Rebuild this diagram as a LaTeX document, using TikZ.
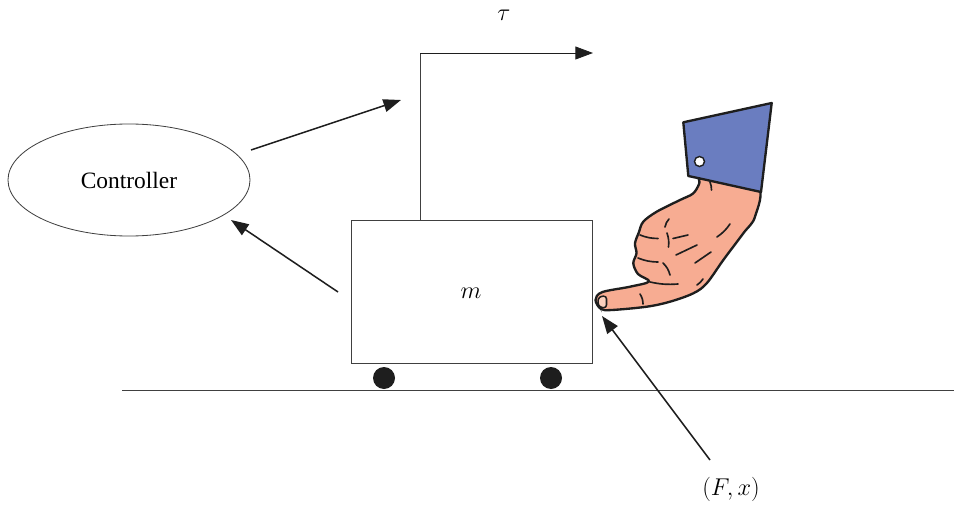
\documentclass[tikz,border=0pt]{standalone}
\usepackage{fontspec}
\setmainfont{Liberation Serif}
\usetikzlibrary{arrows.meta,shapes.geometric}
\definecolor{cuffblue}{HTML}{6A7DC0}
\definecolor{skin}{HTML}{F7AC92}
\definecolor{nail}{HTML}{FBD0BE}
\definecolor{ink}{HTML}{1E1E1E}
\tikzset{
  thinline/.style={draw=ink!85, line width=0.7pt},
  sigarrow/.style={draw=ink, line width=1.3pt, -{Triangle[length=15pt,width=11pt]}},
  wheel/.style={circle, fill=ink, minimum size=0.66cm, inner sep=0pt},
  handline/.style={draw=ink, line width=2pt, line join=round, line cap=round},
  crease/.style={draw=ink, line width=1.4pt, line cap=round},
  mathlabel/.style={font=\fontsize{21}{25}\selectfont, inner sep=0pt},
}
\begin{document}
\begin{tikzpicture}[x=0.03cm, y=-0.03cm]
\useasboundingbox (0,0) rectangle (954,508);

% controller and cart
\node[ellipse, thinline, minimum width=7.26cm, minimum height=3.36cm, inner sep=0pt,
      font=\fontsize{20}{24}\selectfont] (ctrl) at (129,180) {Controller};
\node[thinline, minimum width=7.23cm, minimum height=4.29cm, inner sep=0pt] (mass) at (471.5,291.5) {};
\node[mathlabel] (mlabel) at (471,293) {$m$};
\node[wheel] (w1) at (384,378) {};
\node[wheel] (w2) at (551,378) {};

% ground
\coordinate (g1) at (122,390);
\coordinate (g2) at (954,390);
\draw[thinline] (g1) -- (g2);

% torque output
\coordinate (tauA) at (420,220);
\coordinate (tauB) at (420,53);
\coordinate (tauC) at (593,53);
\draw[thinline] (tauA) -- (tauB);
\draw[thinline, -{Triangle[length=15pt,width=11pt]}, draw=ink] (tauB) -- (tauC);
\node[mathlabel] (tau) at (504,15) {$\tau$};

% controller signals
\coordinate (c1) at (251,150);
\coordinate (c2) at (401,100);
\draw[sigarrow] (c1) -- (c2);
\coordinate (s1) at (338,292);
\coordinate (s2) at (231,220);
\draw[sigarrow] (s1) -- (s2);

% interaction force
\coordinate (f1) at (710,460);
\coordinate (f2) at (602,316);
\draw[sigarrow] (f1) -- (f2);
\node[mathlabel] (fx) at (731,489) {$(F,x)$};

% hand
\path[handline, fill=skin] plot[smooth cycle, tension=0.55] coordinates {
  (701.7,170) (699.3,183.3) (693,193.5) (680,200) (656.7,211.7) (643.3,221.7)
  (639,232) (635,243.3) (636.5,253.3) (633.3,263.3) (638,274) (649,281.5)
  (630,286.7) (602,292.2) (595.5,300) (601,309) (612,310) (646.7,306.7)
  (670,301.7) (693.3,293.3) (706.7,283.3) (723.3,260) (743.3,233.3)
  (755,216.7) (757,185)};
\path[draw=ink, line width=1.3pt, fill=nail, rounded corners=2.5pt]
  (606.5,296) -- (599,296.5) -- (597.5,303) -- (600,307.5) -- (606.5,307.8) -- cycle;

% finger creases
\draw[crease] (710,182) to[bend left=10] (711.5,190);
\draw[crease] (669,219) to[bend right=15] (665,227);
\draw[crease] (640,235) to[bend right=10] (658,238.5);
\draw[crease] (667,233) to[bend left=12] (668.5,247);
\draw[crease] (673,238.5) -- (688,235);
\draw[crease] (638,258) to[bend right=10] (658,262);
\draw[crease] (663,263) to[bend left=15] (670,275);
\draw[crease] (676,255) -- (697,245);
\draw[crease] (695,263) -- (711,252);
\draw[crease] (717,237) to[bend right=10] (730,224);
\draw[crease] (650,282) to[bend right=8] (678,284);
\draw[crease] (640,294) to[bend left=15] (643,304);
\draw[crease] (697,285) to[bend right=10] (703,279);

% cuff with button
\path[handline, fill=cuffblue] (683.3,122.3) -- (771.7,103) -- (761,192) -- (700,178.5) -- (688.3,176) -- cycle;
\node[circle, draw=ink, line width=1.2pt, fill=white, minimum size=0.3cm, inner sep=0pt] (button) at (699.5,161.5) {};
\end{tikzpicture}
\end{document}
